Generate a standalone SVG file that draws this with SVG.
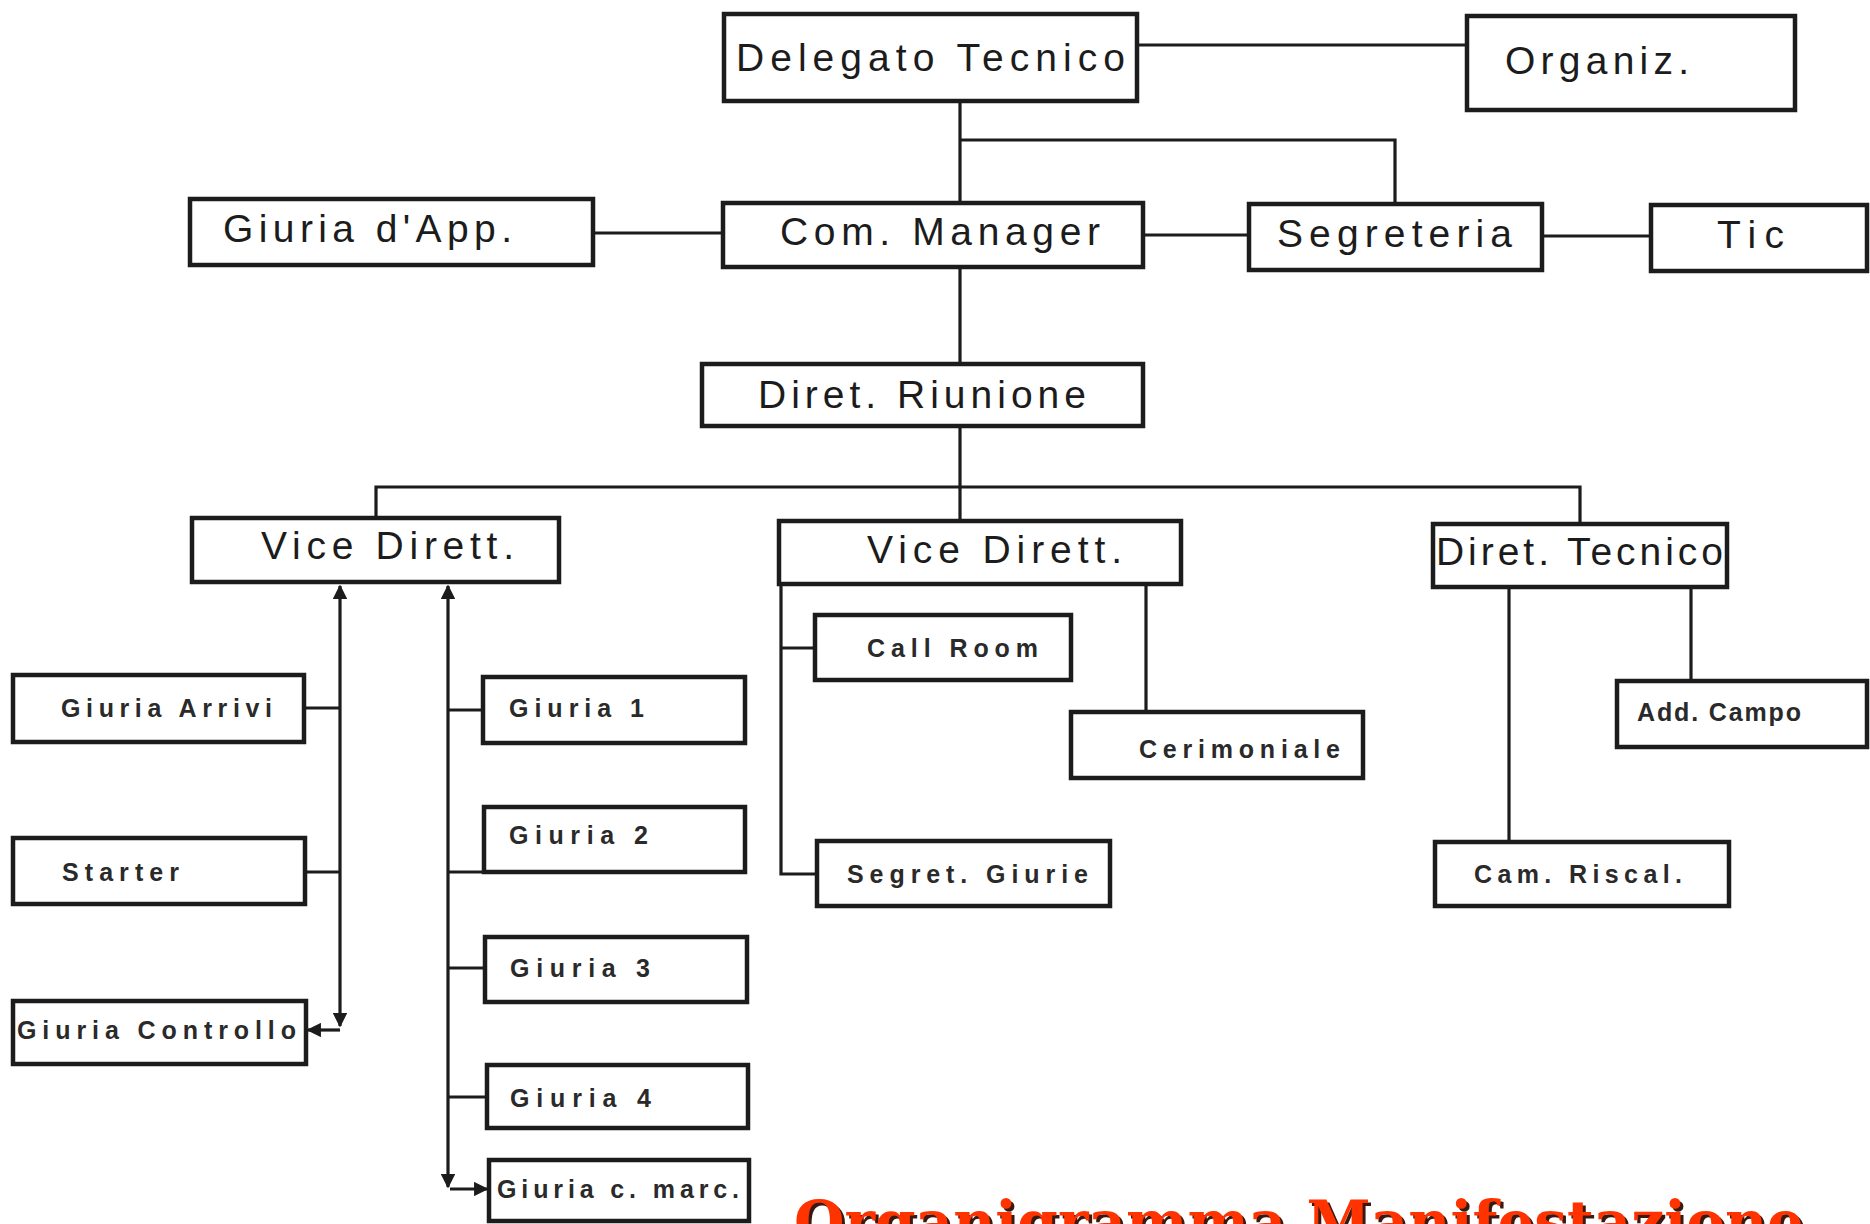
<svg xmlns="http://www.w3.org/2000/svg" width="1870" height="1224" viewBox="0 0 1870 1224">
<style>
.box{fill:#fff;stroke:#1c1c1c;stroke-width:4.5}
.big{font-family:"Liberation Sans",Arial,sans-serif;font-size:39px;fill:#1c1c1c}
.small{font-family:"Liberation Sans",Arial,sans-serif;font-size:25px;font-weight:bold;fill:#2a2a2a}
.con{fill:none;stroke:#1c1c1c;stroke-width:3.2}
.title{font-family:"DejaVu Serif",serif;font-weight:bold;font-size:58px}
</style>
<defs>
<marker id="ah" viewBox="0 0 10 10" refX="9" refY="5" markerWidth="4.5" markerHeight="4.5" orient="auto-start-reverse" markerUnits="strokeWidth">
<path d="M0,0 L10,5 L0,10 z" fill="#1c1c1c"/>
</marker>
</defs>
<rect width="1870" height="1224" fill="#fff"/>
<g id="connectors">
<path class="con" d="M1137 45 H1467"/>
<path class="con" d="M960 101 V203"/>
<path class="con" d="M960 140 H1395 V204"/>
<path class="con" d="M593 233 H723"/>
<path class="con" d="M1143 235 H1249"/>
<path class="con" d="M1542 236 H1651"/>
<path class="con" d="M960 267 V364"/>
<path class="con" d="M960 426 V521"/>
<path class="con" d="M376 518 V487 H1580 V524"/>
<path class="con" d="M340 586 V1026" marker-start="url(#ah)" marker-end="url(#ah)"/>
<path class="con" d="M304 708 H340"/>
<path class="con" d="M305 872 H340"/>
<path class="con" d="M340 1030 H308" marker-end="url(#ah)"/>
<path class="con" d="M448 586 V1187" marker-start="url(#ah)" marker-end="url(#ah)"/>
<path class="con" d="M448 710 H483"/>
<path class="con" d="M448 872 H484"/>
<path class="con" d="M448 968 H485"/>
<path class="con" d="M448 1097 H487"/>
<path class="con" d="M450 1189 H487" marker-end="url(#ah)"/>
<path class="con" d="M781 584 V874 H817"/>
<path class="con" d="M781 648 H815"/>
<path class="con" d="M1146 584 V712"/>
<path class="con" d="M1509 587 V842"/>
<path class="con" d="M1691 587 V681"/>
</g>
<g id="delegato"><rect class="box" x="724" y="14" width="413" height="87"/><text class="big" x="736" y="71" textLength="389" lengthAdjust="spacing">Delegato Tecnico</text></g>
<g id="organiz"><rect class="box" x="1467" y="16" width="328" height="94"/><text class="big" x="1505" y="74" textLength="184" lengthAdjust="spacing">Organiz.</text></g>
<g id="giuria-app"><rect class="box" x="190" y="199" width="403" height="66"/><text class="big" x="223" y="242" textLength="289" lengthAdjust="spacing">Giuria d'App.</text></g>
<g id="com-manager"><rect class="box" x="723" y="203" width="420" height="64"/><text class="big" x="780" y="245" textLength="320" lengthAdjust="spacing">Com. Manager</text></g>
<g id="segreteria"><rect class="box" x="1249" y="204" width="293" height="66"/><text class="big" x="1277" y="247" textLength="235" lengthAdjust="spacing">Segreteria</text></g>
<g id="tic"><rect class="box" x="1651" y="205" width="216" height="66"/><text class="big" x="1717" y="248" textLength="67" lengthAdjust="spacing">Tic</text></g>
<g id="diret-riunione"><rect class="box" x="702" y="364" width="441" height="62"/><text class="big" x="758" y="408" textLength="328" lengthAdjust="spacing">Diret. Riunione</text></g>
<g id="vice-dirett-1"><rect class="box" x="192" y="518" width="367" height="64"/><text class="big" x="261" y="559" textLength="253" lengthAdjust="spacing">Vice Dirett.</text></g>
<g id="vice-dirett-2"><rect class="box" x="779" y="521" width="402" height="63"/><text class="big" x="867" y="563" textLength="255" lengthAdjust="spacing">Vice Dirett.</text></g>
<g id="diret-tecnico"><rect class="box" x="1433" y="524" width="294" height="63"/><text class="big" x="1436" y="565" textLength="287" lengthAdjust="spacing">Diret. Tecnico</text></g>
<g id="giuria-arrivi"><rect class="box" x="13" y="675" width="291" height="67"/><text class="small" x="61" y="717" textLength="211" lengthAdjust="spacing">Giuria Arrivi</text></g>
<g id="starter"><rect class="box" x="13" y="838" width="292" height="66"/><text class="small" x="62" y="881" textLength="117" lengthAdjust="spacing">Starter</text></g>
<g id="giuria-controllo"><rect class="box" x="13" y="1001" width="293" height="63"/><text class="small" x="17" y="1039" textLength="279" lengthAdjust="spacing">Giuria Controllo</text></g>
<g id="giuria-1"><rect class="box" x="483" y="677" width="262" height="66"/><text class="small" x="509" y="717" textLength="135" lengthAdjust="spacing">Giuria 1</text></g>
<g id="giuria-2"><rect class="box" x="484" y="807" width="261" height="65"/><text class="small" x="509" y="844" textLength="139" lengthAdjust="spacing">Giuria 2</text></g>
<g id="giuria-3"><rect class="box" x="485" y="937" width="262" height="65"/><text class="small" x="510" y="977" textLength="140" lengthAdjust="spacing">Giuria 3</text></g>
<g id="giuria-4"><rect class="box" x="487" y="1065" width="261" height="63"/><text class="small" x="510" y="1107" textLength="141" lengthAdjust="spacing">Giuria 4</text></g>
<g id="giuria-c-marc"><rect class="box" x="489" y="1160" width="260" height="61"/><text class="small" x="497" y="1198" textLength="242" lengthAdjust="spacing">Giuria c. marc.</text></g>
<g id="call-room"><rect class="box" x="815" y="615" width="256" height="65"/><text class="small" x="867" y="657" textLength="171" lengthAdjust="spacing">Call Room</text></g>
<g id="cerimoniale"><rect class="box" x="1071" y="712" width="292" height="66"/><text class="small" x="1139" y="758" textLength="201" lengthAdjust="spacing">Cerimoniale</text></g>
<g id="segret-giurie"><rect class="box" x="817" y="841" width="293" height="65"/><text class="small" x="847" y="883" textLength="241" lengthAdjust="spacing">Segret. Giurie</text></g>
<g id="add-campo"><rect class="box" x="1617" y="681" width="250" height="66"/><text class="small" x="1637" y="721" textLength="164" lengthAdjust="spacing">Add. Campo</text></g>
<g id="cam-riscal"><rect class="box" x="1435" y="842" width="294" height="64"/><text class="small" x="1474" y="883" textLength="208" lengthAdjust="spacing">Cam. Riscal.</text></g>
<g id="title">
<text class="title" x="797" y="1245" fill="#3a1a10" textLength="1010" lengthAdjust="spacingAndGlyphs">Organigramma Manifestazione</text>
<text class="title" x="794" y="1242" fill="#ff3300" textLength="1010" lengthAdjust="spacingAndGlyphs">Organigramma Manifestazione</text>
</g>
</svg>
